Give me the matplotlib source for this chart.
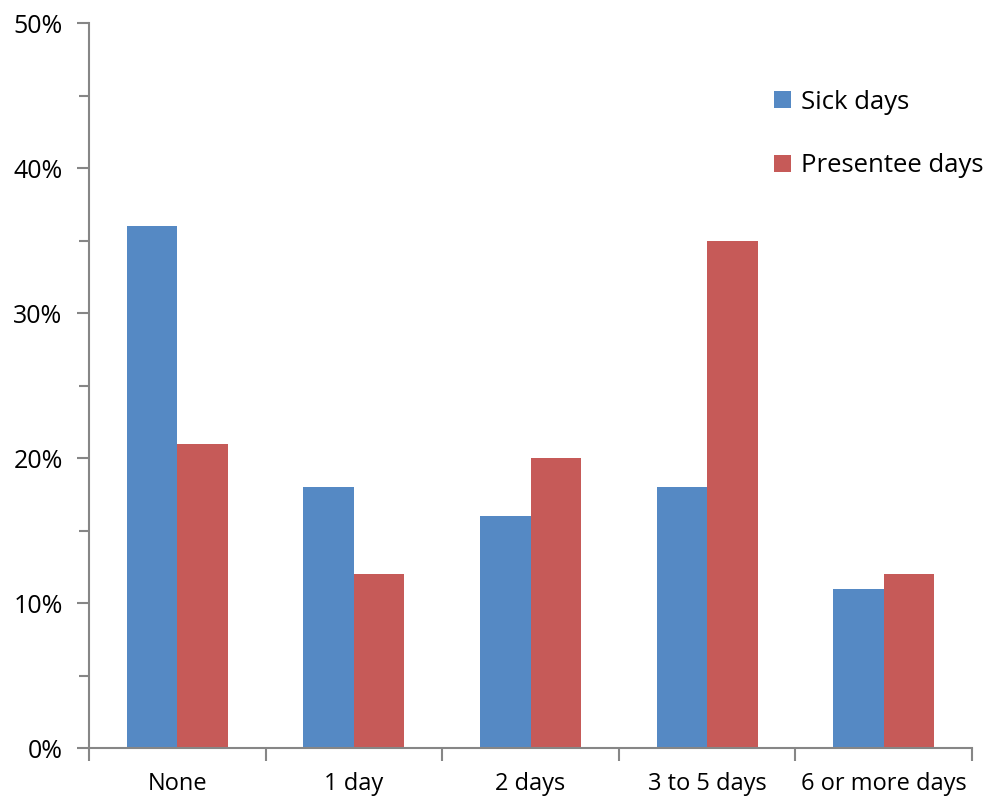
import matplotlib
matplotlib.use("Agg")
import matplotlib.pyplot as plt
import numpy as np
from matplotlib.ticker import FixedLocator, PercentFormatter

categories = ["None", "1 day", "2 days", "3 to 5 days", "6 or more days"]
sick_days = [36, 18, 16, 18, 11]
presentee_days = [21, 12, 20, 35, 12]

plt.rcParams['font.family'] = ['Open Sans', 'DejaVu Sans']

fig = plt.figure(figsize=(9.85, 8), dpi=100)
ax = fig.add_axes([0.0904, 0.065, 0.8964, 0.906])

x = np.arange(len(categories))
w = 0.286
blue = "#5589C4"
red = "#C65A58"
ax.bar(x - w/2, sick_days, width=w, color=blue, label="Sick days")
ax.bar(x + w/2, presentee_days, width=w, color=red, label="Presentee days")

ax.set_xlim(-0.5, len(categories) - 0.5)
ax.set_ylim(0, 50)

ax.set_yticks(np.arange(0, 51, 10))
ax.yaxis.set_minor_locator(FixedLocator(np.arange(5, 50, 10)))
ax.yaxis.set_major_formatter(PercentFormatter(decimals=0))

ax.set_xticks(x)
ax.set_xticklabels(categories)
ax.xaxis.set_minor_locator(FixedLocator(np.arange(-0.5, len(categories), 1.0)))

gray = "#868686"
for s in ["top", "right"]:
    ax.spines[s].set_visible(False)
for s in ["left", "bottom"]:
    ax.spines[s].set_color(gray)
    ax.spines[s].set_linewidth(1.5)

ax.tick_params(axis='y', which='major', length=9, width=1.5, color=gray, labelsize=18, pad=10)
ax.tick_params(axis='y', which='minor', length=7, width=1.5, color=gray)
ax.tick_params(axis='x', which='major', length=0, labelsize=17, pad=17)
ax.tick_params(axis='x', which='minor', length=9, width=1.5, color=gray)

ax.legend(loc='upper left', bbox_to_anchor=(0.75, 0.94), frameon=False,
          fontsize=18.5, handlelength=0.65, handleheight=0.65, handletextpad=0.4,
          labelspacing=1.5)

fig.savefig("out.png", dpi=100)
